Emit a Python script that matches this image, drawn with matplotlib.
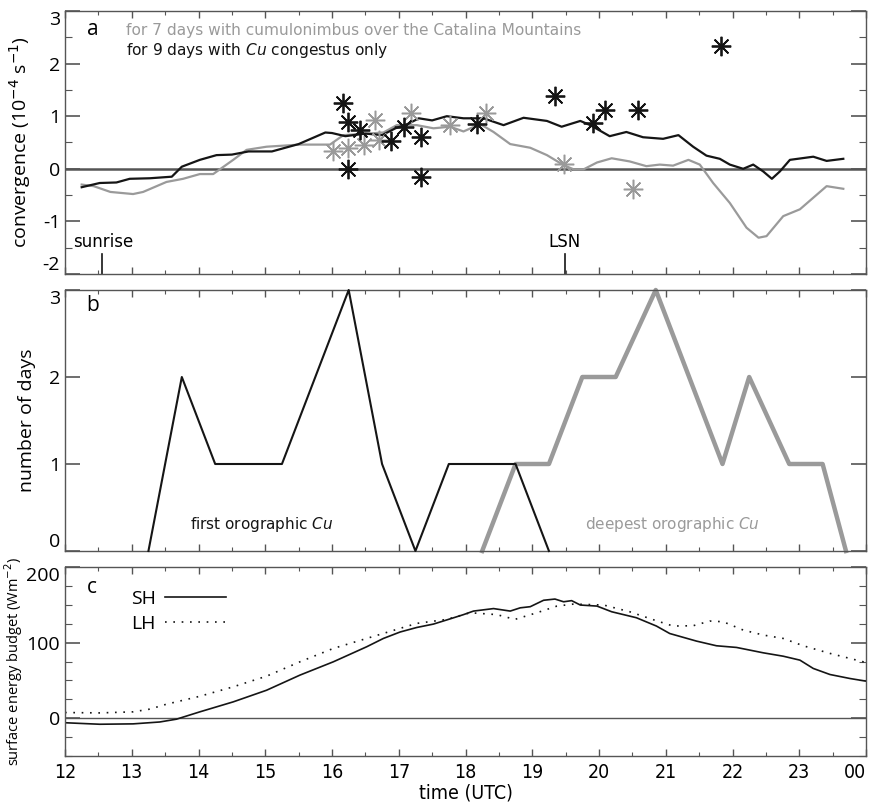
import matplotlib
matplotlib.use("Agg")
import matplotlib.pyplot as plt
from matplotlib.ticker import MultipleLocator, FixedLocator
import numpy as np

# ---------------- data ----------------
# panel a: convergence (1e-4 s^-1)
cb_time = [12.25, 12.43, 12.68, 13.02, 13.17, 13.52, 13.77, 14.02, 14.22, 14.52, 14.72, 15.02, 15.27,
           15.52, 15.97, 16.17, 16.42, 16.77, 16.97, 17.27, 17.52, 17.77, 17.97, 18.22, 18.42, 18.67,
           18.97, 19.22, 19.47, 19.62, 19.77, 19.97, 20.19, 20.46, 20.71, 20.91, 21.11, 21.34, 21.51,
           21.71, 21.96, 22.21, 22.39, 22.51, 22.76, 23.01, 23.21, 23.41, 23.66]
cb_conv = [-0.30, -0.33, -0.44, -0.48, -0.44, -0.25, -0.19, -0.10, -0.10, 0.17, 0.36, 0.42, 0.44,
           0.46, 0.46, 0.64, 0.66, 0.69, 0.83, 0.83, 0.77, 0.80, 0.71, 0.85, 0.70, 0.47,
           0.40, 0.26, 0.07, -0.01, -0.01, 0.12, 0.20, 0.14, 0.05, 0.08, 0.06, 0.17, 0.08,
           -0.27, -0.65, -1.12, -1.31, -1.28, -0.90, -0.77, -0.55, -0.33, -0.38]
cg_time = [12.25, 12.52, 12.77, 12.97, 13.27, 13.60, 13.75, 14.02, 14.27, 14.50, 14.75, 15.10, 15.50,
           15.90, 16.00, 16.20, 16.50, 16.75, 16.95, 17.15, 17.30, 17.50, 17.72, 17.97, 18.27, 18.57,
           18.87, 19.22, 19.44, 19.72, 19.87, 20.16, 20.41, 20.66, 20.96, 21.19, 21.41, 21.61, 21.81,
           21.96, 22.16, 22.31, 22.46, 22.59, 22.71, 22.86, 23.21, 23.41, 23.66]
cg_conv = [-0.35, -0.27, -0.26, -0.19, -0.18, -0.15, 0.04, 0.17, 0.26, 0.27, 0.33, 0.33, 0.47,
           0.69, 0.68, 0.62, 0.67, 0.64, 0.77, 0.86, 0.96, 0.92, 1.00, 0.96, 0.96, 0.83,
           0.97, 0.91, 0.80, 0.91, 0.83, 0.62, 0.70, 0.60, 0.57, 0.64, 0.42, 0.25, 0.19,
           0.08, 0.00, 0.08, -0.05, -0.19, -0.05, 0.17, 0.23, 0.15, 0.19]
# individual days (asterisks)
cg_day_time = [16.17, 16.24, 16.24, 16.42, 16.88, 17.08, 17.33, 17.33, 18.17, 19.34, 19.91, 20.09, 20.59, 21.83]
cg_day_conv = [1.25, 0.89, 0.00, 0.74, 0.52, 0.79, 0.61, -0.16, 0.85, 1.39, 0.87, 1.12, 1.12, 2.34]
cb_day_time = [16.02, 16.24, 16.48, 16.65, 16.70, 17.18, 17.77, 18.30, 19.47, 20.51]
cb_day_conv = [0.33, 0.39, 0.46, 0.92, 0.54, 1.07, 0.83, 1.07, 0.09, -0.39]

# panel b: number of days
first_time = [13.25, 13.75, 14.25, 14.75, 15.25, 15.75, 16.25, 16.75, 17.25, 17.75, 18.25, 18.75, 19.25]
first_days = [0, 2, 1, 1, 1, 2, 3, 1, 0, 1, 1, 1, 0]
deep_time = [18.25, 18.75, 19.25, 19.75, 20.25, 20.85, 21.85, 22.25, 22.85, 23.35, 23.70]
deep_days = [0, 1, 1, 2, 2, 3, 1, 2, 1, 1, 0]

# panel c: surface energy budget (W m^-2)
sh_time = [12.00, 12.52, 13.02, 13.42, 13.67, 14.02, 14.52, 15.02, 15.52, 16.02, 16.52, 16.77, 17.02,
           17.27, 17.52, 17.72, 17.97, 18.12, 18.42, 18.67, 18.82, 18.97, 19.17, 19.34, 19.47, 19.59,
           19.72, 19.97, 20.19, 20.56, 20.86, 21.06, 21.46, 21.76, 22.06, 22.46, 22.76, 23.01, 23.21,
           23.46, 23.76, 24.00]
sh_flux = [-6, -8, -7.5, -5, -1.3, 8.4, 21.6, 37, 57, 74.6, 94.5, 105.5, 114,
           120, 124.5, 130, 137, 141.7, 145, 141.7, 146, 147.5, 156, 157.6, 154, 155.5,
           149.7, 148.3, 140.8, 132.9, 121.9, 112, 102, 95.8, 93.6, 86.5, 82, 76.8, 65.8,
           57.8, 52.5, 49]
lh_time = [12.00, 12.52, 13.02, 13.27, 13.52, 14.02, 14.52, 15.02, 15.52, 16.02, 16.52, 17.02, 17.27,
           17.72, 18.07, 18.47, 18.74, 19.07, 19.37, 19.62, 20.07, 20.46, 20.86, 21.11, 21.41, 21.66,
           21.86, 22.16, 22.46, 22.76, 23.06, 23.46, 24.00]
lh_flux = [7.5, 7, 8.4, 12, 18.5, 29, 41.5, 55.6, 74.6, 92.3, 105.5, 118.8, 125.4,
           130.7, 139.5, 137, 130.7, 139.5, 148.3, 151, 149.7, 140.8, 128.9, 121.9, 122.3, 128.5,
           127.6, 116.6, 110, 105.5, 95.8, 85.7, 73.7]

hour_ticks = list(range(12, 25))
hour_labels = [str(h) for h in range(12, 24)] + ["00"]
conv_ticks = [-2, -1, 0, 1, 2, 3]
days_ticks = [0, 1, 2, 3]
flux_ticks = [0, 100, 200]
sunrise_time = 12.55
lsn_time = 19.49

# ---------------- style ----------------
BLACK = "#151515"
GRAY = "#9a9a9a"
SPINE = "#555555"
ANN_FONT = "DejaVu Sans"
LAB_FONT = "Open Sans"
TICK_FS = 14

fig = plt.figure(figsize=(8.77, 8.02), dpi=100)
W, H = 877.0, 802.0
def axpos(top, bottom, left=65, right=866):
    return [left / W, 1 - bottom / H, (right - left) / W, (bottom - top) / H]

axa = fig.add_axes(axpos(11, 274))
axb = fig.add_axes(axpos(290, 551))
axc = fig.add_axes(axpos(567, 756))

for ax in (axa, axb, axc):
    ax.set_xlim(12, 24)
    ax.xaxis.set_major_locator(FixedLocator(hour_ticks))
    ax.xaxis.set_minor_locator(MultipleLocator(0.5))
    for s in ax.spines.values():
        s.set_color(SPINE)
        s.set_linewidth(1.0)
    ax.tick_params(axis="x", which="both", direction="in", top=True, bottom=True, colors=SPINE,
                   labelcolor="black")
    ax.tick_params(axis="x", which="major", length=5, width=1.0)
    ax.tick_params(axis="x", which="minor", length=3, width=0.8)
    ax.tick_params(axis="y", which="both", direction="in", left=True, right=True, colors=SPINE,
                   labelcolor="black")
    ax.tick_params(axis="y", which="major", length=11, width=1.2)
    ax.tick_params(axis="y", which="minor", length=5, width=0.8)

def set_yticks(ax, ticks):
    ax.set_yticks(ticks)
    labs = ax.set_yticklabels([str(t) for t in ticks], fontfamily=LAB_FONT, fontsize=TICK_FS)
    labs[0].set_va("bottom")
    labs[-1].set_va("top")

axa.tick_params(axis="x", labelbottom=False)
axb.tick_params(axis="x", labelbottom=False)

# ---- panel a ----
axa.set_ylim(-2, 3)
set_yticks(axa, conv_ticks)
axa.yaxis.set_minor_locator(MultipleLocator(0.5))
axa.axhline(0, color="#555555", lw=1.8, zorder=1)
axa.plot(cb_time, cb_conv, color=GRAY, lw=1.6, zorder=2)
axa.plot(cg_time, cg_conv, color=BLACK, lw=1.6, zorder=3)
axa.plot(cb_day_time, cb_day_conv, ls="none", marker=(8, 2, 0), ms=14, mew=1.1, color=GRAY, zorder=4)
axa.plot(cg_day_time, cg_day_conv, ls="none", marker=(8, 2, 0), ms=14, mew=1.3, color=BLACK, zorder=5)
axa.plot(cg_day_time, cg_day_conv, ls="none", marker="o", ms=2.5, color=BLACK, zorder=6)
axa.set_ylabel("convergence (10$^{-4}$ s$^{-1}$)", fontfamily=LAB_FONT, fontsize=14)
axa.yaxis.set_label_coords(-0.040, 0.5)
axa.text(0.027, 0.93, "a", transform=axa.transAxes, fontsize=15, fontfamily=LAB_FONT, va="center")
axa.text(0.076, 0.925, "for 7 days with cumulonimbus over the Catalina Mountains",
         transform=axa.transAxes, color=GRAY, fontsize=11.1, fontfamily=ANN_FONT, va="center")
axa.text(0.076, 0.848, "for 9 days with $\\mathit{Cu}$ congestus only",
         transform=axa.transAxes, color=BLACK, fontsize=11.1, fontfamily=ANN_FONT, va="center")
axa.plot([sunrise_time, sunrise_time], [-2, -1.62], color=BLACK, lw=1.2, clip_on=False)
axa.plot([lsn_time, lsn_time], [-2, -1.62], color=BLACK, lw=1.2, clip_on=False)
axa.text(12.12, -1.39, "sunrise", fontsize=12, fontfamily=ANN_FONT, ha="left", va="center")
axa.text(lsn_time, -1.39, "LSN", fontsize=12, fontfamily=ANN_FONT, ha="center", va="center")

# ---- panel b ----
axb.set_ylim(0, 3)
set_yticks(axb, days_ticks)
axb.yaxis.set_minor_locator(FixedLocator([]))
axb.plot(first_time, first_days, color=BLACK, lw=1.5, clip_on=False, zorder=3)
axb.plot(deep_time, deep_days, color=GRAY, lw=3.2, clip_on=False, zorder=2)
axb.set_ylabel("number of days", fontfamily=LAB_FONT, fontsize=14)
axb.yaxis.set_label_coords(-0.036, 0.5)
axb.text(0.027, 0.94, "b", transform=axb.transAxes, fontsize=15, fontfamily=LAB_FONT, va="center")
axb.text(0.245, 0.1, "first orographic $\\mathit{Cu}$", transform=axb.transAxes, fontsize=11,
         fontfamily=ANN_FONT, ha="center", va="center", color=BLACK)
axb.text(0.759, 0.1, "deepest orographic $\\mathit{Cu}$", transform=axb.transAxes, fontsize=11,
         fontfamily=ANN_FONT, ha="center", va="center", color=GRAY)

# ---- panel c ----
axc.set_ylim(-50, 200)
set_yticks(axc, flux_ticks)
axc.get_yticklabels()[0].set_va("center_baseline")
axc.yaxis.set_minor_locator(MultipleLocator(25))
axc.axhline(0, color="#555555", lw=1.0, zorder=1)
axc.plot(sh_time, sh_flux, color=BLACK, lw=1.2, label="SH")
axc.plot(lh_time, lh_flux, color=BLACK, lw=1.2, ls=(0, (1, 4)), label="LH")
axc.set_ylabel("surface energy budget (Wm$^{-2}$)", fontfamily=LAB_FONT, fontsize=10.5)
axc.yaxis.set_label_coords(-0.050, 0.5)
axc.text(0.027, 0.89, "c", transform=axc.transAxes, fontsize=15, fontfamily=LAB_FONT, va="center")
leg = axc.legend(loc="upper left", bbox_to_anchor=(0.070, 0.93), frameon=False, markerfirst=False,
                 handlelength=3.1, handletextpad=0.5, labelspacing=0.35, borderpad=0,
                 prop={"family": LAB_FONT, "size": 14})
axc.set_xticks(hour_ticks)
axc.set_xticklabels(hour_labels, fontfamily="DejaVu Sans", fontstretch="condensed", fontsize=14)
axc.get_xticklabels()[-1].set_ha("right")
axc.tick_params(axis="x", pad=5)
axc.set_xlabel("time (UTC)", fontfamily="DejaVu Sans", fontstretch="condensed", fontsize=14, labelpad=1)

fig.savefig("out.png", dpi=100, facecolor="white")
